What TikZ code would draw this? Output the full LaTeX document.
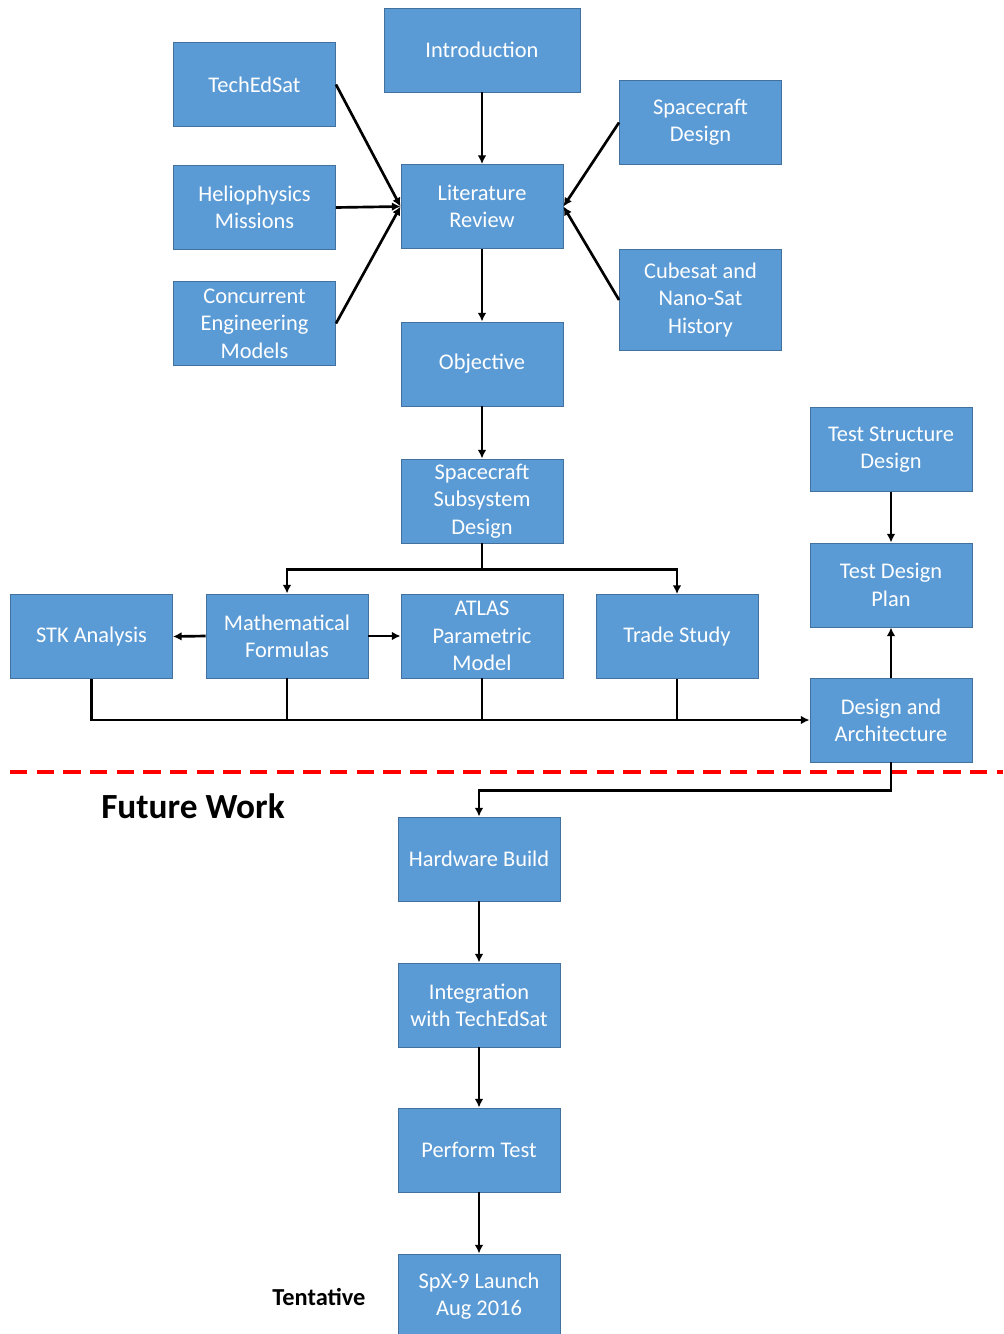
\documentclass[tikz,border=0pt]{standalone}
\usepackage{fontspec}
\setmainfont{Carlito}
\usetikzlibrary{arrows.meta}
\definecolor{boxfill}{HTML}{5B9BD5}
\definecolor{boxline}{HTML}{41719C}
\definecolor{dashred}{HTML}{FF0000}
\begin{document}
\begin{tikzpicture}[x=0.75pt,y=-0.75pt,
  box/.style={draw=boxline, fill=boxfill, line width=0.7pt, minimum width=121.5pt, minimum height=63pt,
    text=white, align=center, inner sep=0pt, font=\fontsize{16.8}{20.5}\selectfont},
  conn/.style={line width=2pt, -{Latex[length=6.5pt,width=6.5pt]}},
  link/.style={line width=2pt},
  lbl/.style={font=\bfseries, text=black, inner sep=0pt}]
\useasboundingbox (0,0) rectangle (1003,1334);
\node[box, minimum width=147pt] (intro) at (482,50) {Introduction};
\node[box] (tech) at (254.5,84.5) {TechEdSat};
\node[box] (helio) at (254.5,207.5) {Heliophysics\\Missions};
\node[box] (conc) at (254.5,323.5) {Concurrent\\Engineering\\Models};
\node[box] (lit) at (482,206.5) {Literature\\Review};
\node[box] (scd) at (700.5,122.5) {Spacecraft\\Design};
\node[box, minimum height=76pt] (cube) at (700.5,300) {Cubesat and\\Nano-Sat\\History};
\node[box] (obj) at (482,364) {Objective};
\node[box] (ssd) at (482,501) {Spacecraft\\Subsystem\\Design};
\node[box] (stk) at (91.5,636.5) {STK Analysis};
\node[box] (math) at (287,636) {Mathematical\\Formulas};
\node[box] (atlas) at (482,636) {ATLAS\\Parametric\\Model};
\node[box] (trade) at (677,636.5) {Trade Study};
\node[box] (tsd) at (891,449.5) {Test Structure\\Design};
\node[box] (tdp) at (891,585) {Test Design\\Plan};
\node[box] (da) at (891,720) {Design and\\Architecture};
\node[box] (hw) at (479,859) {Hardware Build};
\node[box] (integ) at (479,1005) {Integration\\with TechEdSat};
\node[box] (perf) at (479,1150) {Perform Test};
\node[box] (spx) at (479,1296) {SpX-9 Launch\\Aug 2016};
\node[lbl, font=\fontsize{26.5}{30}\bfseries\selectfont] (fw) at (193,806) {Future Work};
\node[lbl, font=\fontsize{18.3}{22}\bfseries\selectfont] (tent) at (319,1297) {Tentative};
\coordinate (dl) at (10,772);
\coordinate (dr) at (1003,772);
\draw[dashred, line width=2.3pt, dash pattern=on 13pt off 7pt] (dl) -- (dr);
% connectors
\draw[conn] (intro) -- (lit);
\draw[conn] (tech.east) -- (lit.west);
\draw[conn] (helio.east) -- (lit.west);
\draw[conn] (conc.east) -- (lit.west);
\draw[conn] (scd.west) -- (lit.east);
\draw[conn] (cube.west) -- (lit.east);
\draw[conn] (lit) -- (obj);
\draw[conn] (obj) -- (ssd);
\draw[conn] (ssd.south) -- ++(0,26) -| (math.north);
\draw[conn] (ssd.south) -- ++(0,26) -| (trade.north);
\draw[conn] (math.west) -- (stk.east);
\draw[conn] (math.east) -- (atlas.west);
\draw[conn] (stk.south) |- (da.west);
\draw[link] (math.south) -- (math.south |- da.west);
\draw[link] (atlas.south) -- (atlas.south |- da.west);
\draw[link] (trade.south) -- (trade.south |- da.west);
\draw[conn] (da.north) -- (tdp.south);
\draw[conn] (tsd) -- (tdp);
\draw[conn] (da.south) -- ++(0,28) -| (hw.north);
\draw[conn] (hw) -- (integ);
\draw[conn] (integ) -- (perf);
\draw[conn] (perf) -- (spx);
\end{tikzpicture}
\end{document}
